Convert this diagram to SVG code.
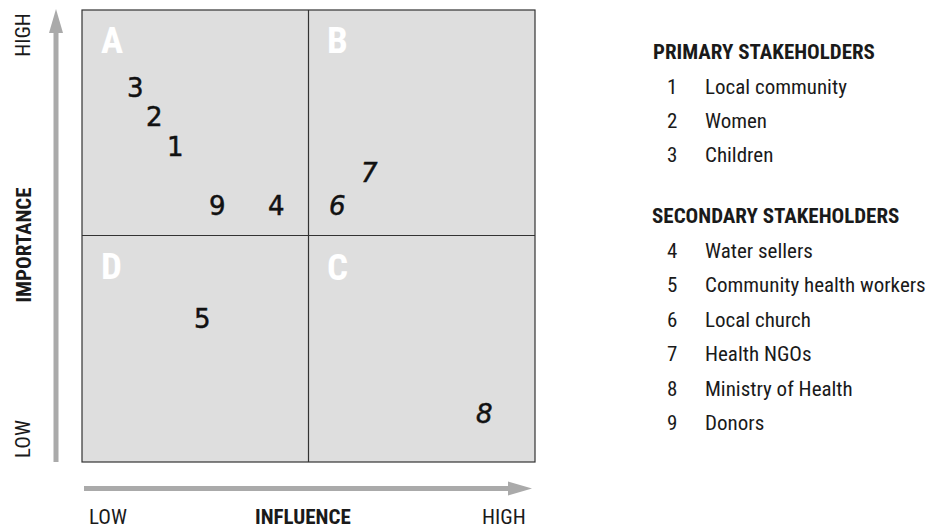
<svg xmlns="http://www.w3.org/2000/svg" width="934" height="530" viewBox="0 0 934 530">
<style>
  .cond { font-family: "Liberation Sans Narrow", "Roboto Condensed", "DejaVu Sans Condensed", "Liberation Sans", sans-serif; font-stretch: condensed; }
  .lbl { font-size: 21px; fill: #1a1a1a; }
  .bold { font-weight: bold; }
  .quad { font-size: 37px; font-weight: bold; fill: #ffffff; }
  .num { font-family: "DejaVu Sans", "Liberation Sans", sans-serif; font-size: 26px; fill: #111111; stroke: #111111; stroke-width: 0.5; }
  .hand { font-style: italic; }
  .cell { fill: #dedede; stroke: #333333; stroke-width: 1.2; }
  .axis { stroke: #aaaaaa; stroke-width: 5; fill: none; }
  .head { fill: #aaaaaa; }
</style>

<g id="connectors">
  <line class="axis" x1="56" y1="462" x2="56" y2="30"/>
  <polygon class="head" points="56,9 63,33 49,33"/>
  <line class="axis" x1="84" y1="488.5" x2="512" y2="488.5"/>
  <polygon class="head" points="532,488.5 508,481.5 508,495.5"/>
</g>

<g id="grid">
  <rect class="cell" x="82" y="10" width="453" height="452"/>
  <line x1="308.5" y1="10" x2="308.5" y2="462" stroke="#333333" stroke-width="1.2"/>
  <line x1="82" y1="235.5" x2="535" y2="235.5" stroke="#333333" stroke-width="1.2"/>
</g>

<g id="quadrant-A"><text class="cond quad" x="101" y="53">A</text></g>
<g id="quadrant-B"><text class="cond quad" x="327" y="53">B</text></g>
<g id="quadrant-D"><text class="cond quad" x="101" y="279">D</text></g>
<g id="quadrant-C"><text class="cond quad" x="327" y="280">C</text></g>

<g id="point-3"><text class="num" x="127" y="97">3</text></g>
<g id="point-2"><text class="num" x="146" y="126">2</text></g>
<g id="point-1"><text class="num" x="167" y="156">1</text></g>
<g id="point-9"><text class="num" x="209" y="215">9</text></g>
<g id="point-4"><text class="num" x="268" y="215">4</text></g>
<g id="point-7"><text class="num hand" x="361" y="182">7</text></g>
<g id="point-6"><text class="num hand" x="329" y="215">6</text></g>
<g id="point-5"><text class="num" x="194" y="328">5</text></g>
<g id="point-8"><text class="num hand" x="476" y="423">8</text></g>

<g id="y-axis-labels">
  <text class="cond lbl" transform="translate(30,35) rotate(-90)" text-anchor="middle">HIGH</text>
  <text class="cond lbl bold" transform="translate(31,245) rotate(-90)" text-anchor="middle">IMPORTANCE</text>
  <text class="cond lbl" transform="translate(30,439) rotate(-90)" text-anchor="middle">LOW</text>
</g>

<g id="x-axis-labels">
  <text class="cond lbl" x="89" y="524">LOW</text>
  <text class="cond lbl bold" x="255" y="524">INFLUENCE</text>
  <text class="cond lbl" x="482" y="524">HIGH</text>
</g>

<g id="legend-primary">
  <text class="cond lbl bold" x="653" y="59">PRIMARY STAKEHOLDERS</text>
  <text class="cond lbl" x="667" y="94">1</text><text class="cond lbl" x="705" y="94">Local community</text>
  <text class="cond lbl" x="667" y="128">2</text><text class="cond lbl" x="705" y="128">Women</text>
  <text class="cond lbl" x="667" y="162">3</text><text class="cond lbl" x="705" y="162">Children</text>
</g>

<g id="legend-secondary">
  <text class="cond lbl bold" x="652" y="223">SECONDARY STAKEHOLDERS</text>
  <text class="cond lbl" x="667" y="258">4</text><text class="cond lbl" x="705" y="258">Water sellers</text>
  <text class="cond lbl" x="667" y="292">5</text><text class="cond lbl" x="705" y="292">Community health workers</text>
  <text class="cond lbl" x="667" y="327">6</text><text class="cond lbl" x="705" y="327">Local church</text>
  <text class="cond lbl" x="667" y="361">7</text><text class="cond lbl" x="705" y="361">Health NGOs</text>
  <text class="cond lbl" x="667" y="396">8</text><text class="cond lbl" x="705" y="396">Ministry of Health</text>
  <text class="cond lbl" x="667" y="430">9</text><text class="cond lbl" x="705" y="430">Donors</text>
</g>
</svg>
